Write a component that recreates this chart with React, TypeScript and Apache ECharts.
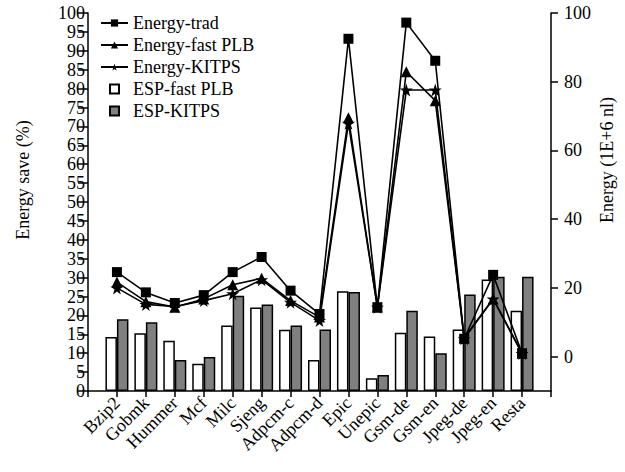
import React, { useEffect, useRef } from "react";
import * as echarts from "echarts";

const categories = ["Bzip2", "Gobmk", "Hummer", "Mcf", "Milc", "Sjeng", "Adpcm-c", "Adpcm-d", "Epic", "Unepic", "Gsm-de", "Gsm-en", "Jpeg-de", "Jpeg-en", "Resta"];
const espFastPLB = [14.3, 15.3, 13.3, 7.2, 17.3, 22.1, 16.2, 8.2, 26.4, 3.4, 15.4, 14.4, 16.3, 29.5, 21.2];
const espKITPS = [19.0, 18.2, 8.2, 9.0, 25.2, 22.9, 17.3, 16.3, 26.2, 4.2, 21.2, 10.0, 25.5, 30.2, 30.2];
const energyTrad = [24.6, 18.7, 15.6, 17.9, 24.6, 29.0, 19.2, 12.4, 92.5, 14.4, 97.2, 86.1, 5.2, 23.8, 1.0];
const energyFastPLB = [21.7, 16.0, 14.4, 16.8, 20.9, 22.8, 16.3, 11.5, 69.5, 14.4, 82.9, 74.5, 5.5, 16.8, 1.0];
const energyKITPS = [20.0, 15.2, 14.6, 16.3, 18.3, 22.4, 15.8, 10.5, 67.9, 14.4, 77.6, 77.6, 5.2, 16.8, 0.9];
const leftTicks = { min: 0, max: 100, interval: 5 };
const rightLabels = [0, 20, 40, 60, 80, 100];

const STAR = "path://M50,0 L61,35 L98,35 L68,57 L79,91 L50,70 L21,91 L32,57 L2,35 L39,35 Z";
const SQUARE = "path://M0,0 L10,0 L10,10 L0,10 Z";
const FONT = "Liberation Serif";
const FS = 18;

const pad = (arr: (number | string)[]) => [null, ...arr, null];

export default function App() {
  const ref = useRef<HTMLDivElement>(null);
  useEffect(() => {
    document.body.style.margin = "0";
    const chart = echarts.init(ref.current!, null, { renderer: "svg" });
    const lineStyleBase = { color: "#000", width: 1.6 };
    const textStyle = { fontFamily: FONT, fontSize: FS, color: "#000" };
    chart.setOption({
      animation: false,
      textStyle: { fontFamily: FONT },
      grid: { left: 88, right: 74, top: 13, bottom: 81, containLabel: false },
      legend: {
        orient: "vertical",
        left: 95,
        top: 9,
        itemWidth: 27,
        itemHeight: 9,
        itemGap: 4,
        textStyle: { ...textStyle, lineHeight: 18 },
        data: [
          { name: "Energy-trad" },
          { name: "Energy-fast PLB" },
          { name: "Energy-KITPS" },
          { name: "ESP-fast PLB", icon: SQUARE },
          { name: "ESP-KITPS", icon: SQUARE },
        ],
      },
      xAxis: {
        type: "category",
        boundaryGap: false,
        data: ["", ...categories, ""],
        axisLine: { lineStyle: { color: "#000", width: 1.5 } },
        axisTick: { show: true, length: 6, interval: 0, lineStyle: { color: "#000", width: 1.5 } },
        axisLabel: { interval: 0, rotate: 45, margin: 9, ...textStyle },
        splitLine: { show: false },
      },
      yAxis: [
        {
          type: "value",
          min: leftTicks.min,
          max: leftTicks.max,
          interval: leftTicks.interval,
          axisLine: { show: true, lineStyle: { color: "#000", width: 1.5 } },
          axisTick: { show: true, length: 10, lineStyle: { color: "#000", width: 1.5 } },
          axisLabel: { margin: 3, ...textStyle },
          splitLine: { show: false },
        },
        {
          type: "value",
          min: -10,
          max: 100,
          position: "right",
          axisLine: { show: true, lineStyle: { color: "#000", width: 1.5 } },
          axisTick: { show: true, length: 7, customValues: rightLabels, lineStyle: { color: "#000", width: 1.5 } },
          axisLabel: { margin: 13, customValues: rightLabels, ...textStyle },
          splitLine: { show: false },
        },
      ],
      graphic: [
        {
          type: "text",
          x: 23,
          y: 180,
          rotation: Math.PI / 2,
          style: { text: "Energy save (%)", font: `${FS}px "${FONT}"`, fill: "#000", align: "center", verticalAlign: "middle" },
        },
        {
          type: "text",
          x: 607,
          y: 160,
          rotation: Math.PI / 2,
          style: { text: "Energy (1E+6 nl)", font: `${FS}px "${FONT}"`, fill: "#000", align: "center", verticalAlign: "middle" },
        },
      ],
      series: [
        {
          name: "ESP-fast PLB",
          type: "bar",
          yAxisIndex: 0,
          barWidth: 11.5,
          barGap: "0%",
          data: pad(espFastPLB),
          itemStyle: { color: "#fff", borderColor: "#000", borderWidth: 1.5 },
        },
        {
          name: "ESP-KITPS",
          type: "bar",
          yAxisIndex: 0,
          barWidth: 11.5,
          barGap: "0%",
          data: pad(espKITPS),
          itemStyle: { color: "#808080", borderColor: "#000", borderWidth: 1.5 },
        },
        {
          name: "Energy-trad",
          type: "line",
          yAxisIndex: 1,
          data: pad(energyTrad),
          symbol: "rect",
          symbolSize: 10,
          lineStyle: lineStyleBase,
          itemStyle: { color: "#000" },
        },
        {
          name: "Energy-fast PLB",
          type: "line",
          yAxisIndex: 1,
          data: pad(energyFastPLB),
          symbol: "triangle",
          symbolSize: 11,
          lineStyle: lineStyleBase,
          itemStyle: { color: "#000" },
        },
        {
          name: "Energy-KITPS",
          type: "line",
          yAxisIndex: 1,
          data: pad(energyKITPS),
          symbol: STAR,
          symbolSize: 13,
          lineStyle: lineStyleBase,
          itemStyle: { color: "#000" },
        },
      ],
    });
    return () => chart.dispose();
  }, []);
  return <div ref={ref} style={{ width: 625, height: 472 }} />;
}
